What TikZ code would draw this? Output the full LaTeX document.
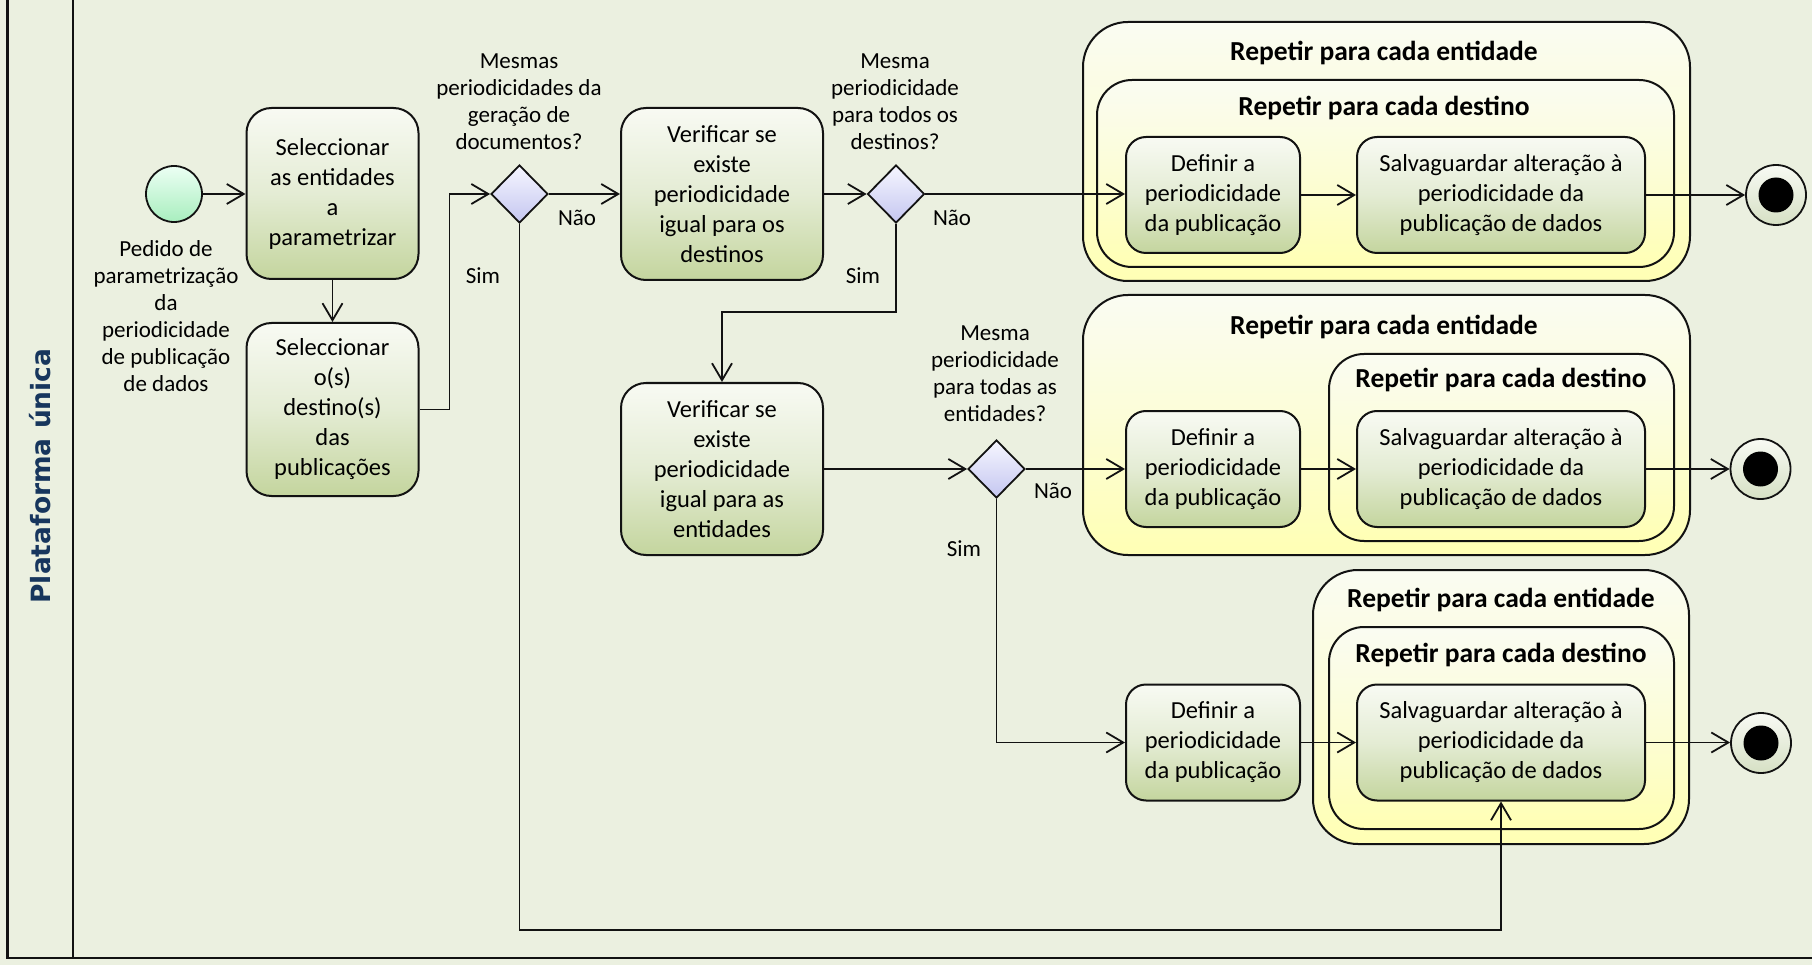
\documentclass[tikz,border=0pt]{standalone}
\usepackage{fontspec}
\setmainfont{Carlito}
\newfontfamily\lanefont{DejaVu Sans}
\usetikzlibrary{shapes.geometric, arrows.meta, calc}

\definecolor{bgcol}{RGB}{235,240,224}
\definecolor{actTop}{RGB}{248,250,243}
\definecolor{actMid}{RGB}{228,236,212}
\definecolor{actBot}{RGB}{196,213,158}
\definecolor{grpTop}{RGB}{250,252,242}
\definecolor{grpMid}{RGB}{252,253,214}
\definecolor{grpBot}{RGB}{255,255,180}
\definecolor{decTop}{RGB}{246,246,255}
\definecolor{decBot}{RGB}{196,198,240}
\definecolor{startTop}{RGB}{236,255,244}
\definecolor{startBot}{RGB}{168,238,190}
\definecolor{finTop}{RGB}{248,250,244}
\definecolor{finBot}{RGB}{214,224,196}
\definecolor{laneText}{RGB}{23,54,93}
\definecolor{edge}{RGB}{18,18,18}

\tikzset{
  action/.style={draw=edge, line width=2pt, rounded corners=25pt,
    top color=actTop, bottom color=actBot, middle color=actMid,
    align=center, inner sep=0pt, font=\fontsize{24.5}{30}\selectfont},
  smallaction/.style={action, rounded corners=20pt},
  grpouter/.style={draw=edge, line width=2pt, rounded corners=45pt,
    top color=grpTop, bottom color=grpBot, middle color=grpMid, inner sep=0pt},
  grpinner/.style={grpouter, rounded corners=35pt},
  grptitle/.style={inner sep=0pt, font=\bfseries\fontsize{27.5}{32}\selectfont},
  decision/.style={diamond, draw=edge, line width=1.8pt, top color=decTop,
    bottom color=decBot, minimum width=57pt, minimum height=58pt, inner sep=0pt},
  startnode/.style={circle, draw=edge, line width=1.8pt, top color=startTop,
    bottom color=startBot, minimum size=56pt, inner sep=0pt},
  finring/.style={circle, draw=edge, line width=1.8pt, top color=finTop,
    bottom color=finBot, minimum size=60pt, inner sep=0pt},
  findot/.style={circle, fill=black, minimum size=35pt, inner sep=0pt},
  lbl/.style={align=center, inner sep=0pt, font=\fontsize{23}{27}\selectfont},
  flow/.style={draw=edge, line width=1.8pt,
    -{Straight Barb[length=17pt, width=20pt]}},
  frame/.style={draw=edge, line width=2.5pt}
}

\begin{document}
\begin{tikzpicture}[x=1pt, y=-1pt]
  % page and lane background
  \useasboundingbox (0,0) rectangle (1812,965);
  \clip (0,0) rectangle (1812,965);
  \fill[bgcol] (0,0) rectangle (1812,965);
  \draw[frame] (7.5,-20) -- (7.5,958) -- (1840,958);
  \draw[frame] (73,-20) -- (73,958);
  \node[rotate=90, text=laneText, inner sep=0pt,
        font=\lanefont\bfseries\fontsize{26.5}{30}\selectfont] (lane) at (40.5,476) {Plataforma única};

  % loop regions
  \node[grpouter, minimum width=607pt, minimum height=259pt] (g1out) at (1386.5,151.5) {};
  \node[grpinner, minimum width=577pt, minimum height=187pt] (g1in) at (1385.5,173.5) {};
  \node[grptitle] (t1a) at (1384,53) {Repetir para cada entidade};
  \node[grptitle] (t1b) at (1384,108) {Repetir para cada destino};

  \node[grpouter, minimum width=607pt, minimum height=260pt] (g2out) at (1386.5,425) {};
  \node[grpinner, minimum width=345pt, minimum height=187pt] (g2in) at (1501.5,447.5) {};
  \node[grptitle] (t2a) at (1384,327) {Repetir para cada entidade};
  \node[grptitle] (t2b) at (1501,380) {Repetir para cada destino};

  \node[grpouter, minimum width=376pt, minimum height=274pt] (g3out) at (1501,707) {};
  \node[grpinner, minimum width=345pt, minimum height=202pt] (g3in) at (1501.5,728) {};
  \node[grptitle] (t3a) at (1501,600) {Repetir para cada entidade};
  \node[grptitle] (t3b) at (1501,655) {Repetir para cada destino};

  % activities and decisions
  \node[startnode] (start) at (174,194) {};
  \node[lbl] (startlbl) at (166,316) {Pedido de\\parametrização\\da\\periodicidade\\de publicação\\de dados};

  \node[action, minimum width=172pt, minimum height=171pt] (box1) at (332.5,193.5)
    {Seleccionar\\as entidades\\a\\parametrizar};
  \node[action, minimum width=172pt, minimum height=173pt] (box2) at (332.5,409.5)
    {Seleccionar\\o(s)\\destino(s)\\das\\publicações};

  \node[decision] (d1) at (519.5,194) {};
  \node[lbl] (q1) at (519,101.5) {Mesmas\\periodicidades da\\geração de\\documentos?};

  \node[action, minimum width=202pt, minimum height=172pt] (box3) at (722,194)
    {Verificar se\\existe\\periodicidade\\igual para os\\destinos};
  \node[decision] (d2) at (896,194) {};
  \node[lbl] (q2) at (895,101.5) {Mesma\\periodicidade\\para todos os\\destinos?};

  \node[action, minimum width=202pt, minimum height=172pt] (box4) at (722,469)
    {Verificar se\\existe\\periodicidade\\igual para as\\entidades};
  \node[decision] (d3) at (996.5,469) {};
  \node[lbl] (q3) at (995,373.5) {Mesma\\periodicidade\\para todas as\\entidades?};

  \node[smallaction, minimum width=174pt, minimum height=116pt] (def1) at (1213,195)
    {Definir a\\periodicidade\\da publicação};
  \node[smallaction, minimum width=288pt, minimum height=116pt] (sav1) at (1501,195)
    {Salvaguardar alteração à\\periodicidade da\\publicação de dados};
  \node[smallaction, minimum width=174pt, minimum height=116pt] (def2) at (1213,469)
    {Definir a\\periodicidade\\da publicação};
  \node[smallaction, minimum width=288pt, minimum height=116pt] (sav2) at (1501,469)
    {Salvaguardar alteração à\\periodicidade da\\publicação de dados};
  \node[smallaction, minimum width=174pt, minimum height=116pt] (def3) at (1213,742.5)
    {Definir a\\periodicidade\\da publicação};
  \node[smallaction, minimum width=288pt, minimum height=116pt] (sav3) at (1501,742.5)
    {Salvaguardar alteração à\\periodicidade da\\publicação de dados};

  \node[finring] (fin1) at (1776,195) {};
  \node[findot] (fin1dot) at (fin1) {};
  \node[finring] (fin2) at (1760.5,469) {};
  \node[findot] (fin2dot) at (fin2) {};
  \node[finring] (fin3) at (1761,743) {};
  \node[findot] (fin3dot) at (fin3) {};

  % guard labels
  \node[lbl] (d1no)  at (577,218) {Não};
  \node[lbl] (d1yes) at (483,276) {Sim};
  \node[lbl] (d2no)  at (952,218) {Não};
  \node[lbl] (d2yes) at (863,276) {Sim};
  \node[lbl] (d3no)  at (1053,491) {Não};
  \node[lbl] (d3yes) at (964,549) {Sim};

  % control flow
  \coordinate (loopback) at (1501,930);
  \draw[flow] (start.east) -- (start.east -| box1.west);
  \draw[flow] (box1.south) -- (box2.north);
  \draw[flow] (box2.east) -- ++(30,0) |- (d1.west);
  \draw[flow] (d1.east) -- (d1.east -| box3.west);
  \draw[flow] (d1.south) |- (loopback) -- (sav3.south);
  \draw[flow] (box3.east) -- (box3.east -| d2.west);
  \draw[flow] (d2.east) -- (d2.east -| def1.west);
  \draw[flow] (d2.south) -- ++(0,88) -| (box4.north);
  \draw[flow] (box4.east) -- (box4.east -| d3.west);
  \draw[flow] (d3.east) -- (d3.east -| def2.west);
  \draw[flow] (d3.south) |- (def3.west);
  \draw[flow] (def1.east) -- (def1.east -| sav1.west);
  \draw[flow] (def2.east) -- (def2.east -| sav2.west);
  \draw[flow] (def3.east) -- (def3.east -| sav3.west);
  \draw[flow] (sav1.east) -- (sav1.east -| fin1.west);
  \draw[flow] (sav2.east) -- (sav2.east -| fin2.west);
  \draw[flow] (sav3.east) -- (sav3.east -| fin3.west);
\end{tikzpicture}
\end{document}
